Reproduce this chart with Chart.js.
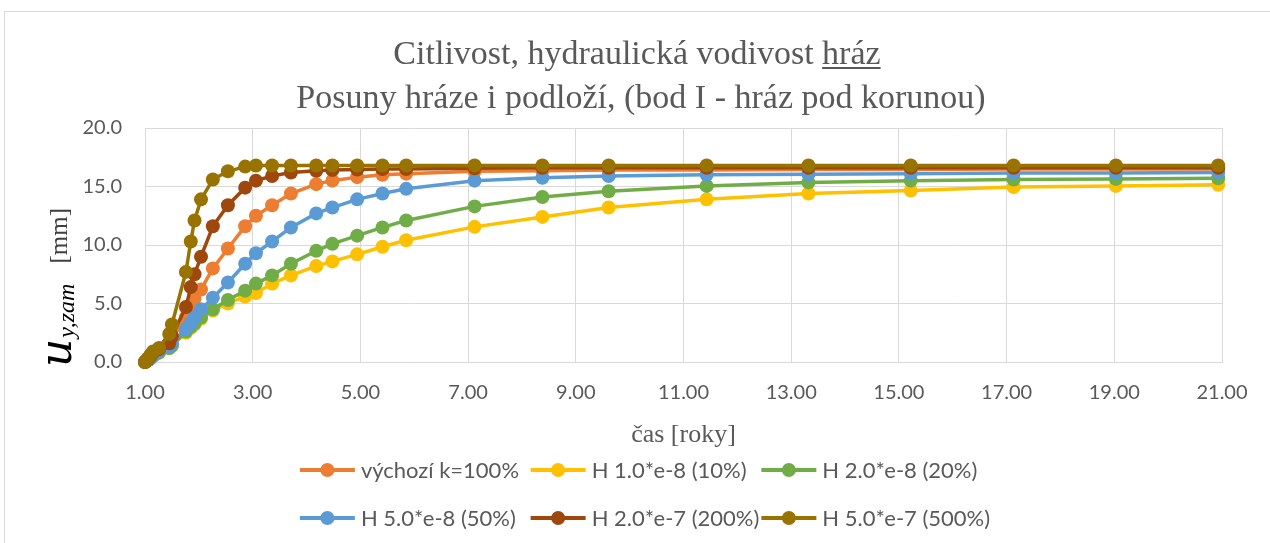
<!DOCTYPE html>
<html>
<head>
<meta charset="utf-8">
<script src="https://cdn.jsdelivr.net/npm/chart.js@4.4.0/dist/chart.umd.min.js"></script>
<style>
  html, body { margin: 0; padding: 0; background: #fff; }
  canvas { display: block; }
</style>
</head>
<body>
<canvas id="graf" width="1270" height="543"></canvas>
<script>
// cas [roky]
var cas = [1.00, 1.05, 1.10, 1.15, 1.26, 1.45, 1.50, 1.76, 1.85, 1.92, 2.04, 2.26, 2.54, 2.86, 3.06, 3.36,
           3.71, 4.18, 4.48, 4.94, 5.41, 5.85, 7.12, 8.38, 9.61, 11.43, 13.32, 15.22, 17.13, 19.03, 20.93]

// u_y,zam [mm]
var vychozi = [0, 0.2, 0.4, 0.7, 1.0, 1.6, 2.0, 3.8, 4.7, 5.4, 6.2, 8.0, 9.7, 11.6, 12.5, 13.4,
               14.4, 15.2, 15.5, 15.8, 16.0, 16.1, 16.3, 16.35, 16.4, 16.4, 16.45, 16.45, 16.5, 16.5, 16.5]
var h10 = [0, 0.15, 0.3, 0.5, 0.8, 1.2, 1.4, 2.5, 2.9, 3.2, 3.7, 4.4, 5.0, 5.6, 5.9, 6.7,
           7.4, 8.2, 8.6, 9.2, 9.85, 10.4, 11.55, 12.4, 13.2, 13.9, 14.4, 14.65, 14.95, 15.05, 15.15]
var h20 = [0, 0.15, 0.3, 0.5, 0.8, 1.2, 1.4, 2.6, 3.0, 3.3, 3.8, 4.5, 5.3, 6.1, 6.7, 7.4,
           8.4, 9.5, 10.1, 10.8, 11.5, 12.1, 13.3, 14.1, 14.6, 15.05, 15.35, 15.5, 15.6, 15.65, 15.7]
var h50 = [0, 0.15, 0.35, 0.6, 0.9, 1.3, 1.6, 2.8, 3.3, 3.8, 4.5, 5.5, 6.8, 8.4, 9.3, 10.3,
           11.5, 12.7, 13.2, 13.9, 14.4, 14.8, 15.5, 15.75, 15.9, 16.0, 16.05, 16.1, 16.15, 16.15, 16.2]
var h200 = [0, 0.2, 0.5, 0.8, 1.1, 1.6, 2.2, 4.7, 6.4, 7.5, 9.0, 11.6, 13.4, 14.9, 15.5, 15.9,
            16.2, 16.35, 16.4, 16.45, 16.5, 16.5, 16.55, 16.6, 16.6, 16.6, 16.6, 16.6, 16.6, 16.6, 16.6]
var h500 = [0, 0.3, 0.6, 0.9, 1.2, 2.4, 3.2, 7.7, 10.3, 12.1, 13.9, 15.6, 16.3, 16.7, 16.8, 16.8,
            16.8, 16.8, 16.8, 16.8, 16.8, 16.8, 16.8, 16.8, 16.8, 16.8, 16.8, 16.8, 16.8, 16.8, 16.8]

var serie = [vychozi, h10, h20, h50, h200, h500]
var nazvy = ['výchozí k=100%', 'H 1.0*e-8 (10%)', 'H 2.0*e-8 (20%)',
             'H 5.0*e-8 (50%)', 'H 2.0*e-7 (200%)', 'H 5.0*e-7 (500%)']
var barvy = ['#ED7D31', '#FFC000', '#70AD47', '#5B9BD5', '#9E480E', '#997300']

var titulek = ['Citlivost, hydraulická vodivost hráz', 'Posuny hráze i podloží, (bod I - hráz pod korunou)']
var podtrzeno = 'hráz'
var osaX = 'čas [roky]'
var osaY = ['u', 'y,zam', '[mm]']

var sedaText = '#595959'
var mrizka = '#d9d9d9'

// ramecek grafu
var ramecek = {
  id: 'ramecek',
  beforeDraw: function(chart) {
    var ctx = chart.ctx
    ctx.save()
    ctx.fillStyle = '#fff'
    ctx.fillRect(0, 0, chart.width, chart.height)
    ctx.strokeStyle = mrizka
    ctx.lineWidth = 1
    ctx.strokeRect(4.5, 11.5, chart.width + 10, chart.height + 10)
    ctx.restore()
  }
}

// nadpis s podtrzenym slovem
var nadpis = {
  id: 'nadpis',
  afterDraw: function(chart) {
    var ctx = chart.ctx
    var cx = chart.width / 2
    ctx.save()
    ctx.font = '34px "Liberation Serif"'
    ctx.fillStyle = sedaText
    ctx.textAlign = 'center'
    ctx.textBaseline = 'alphabetic'
    ctx.fillText(titulek[0], cx + 2, 64)
    ctx.fillText(titulek[1], cx + 6, 108)
    var w = ctx.measureText(titulek[0]).width
    var ws = ctx.measureText(podtrzeno).width
    ctx.fillRect(cx + 2 + w / 2 - ws, 67, ws, 2)
    ctx.restore()
  }
}

// popis osy y: u_{y,zam} [mm]
var popisY = {
  id: 'popisY',
  afterDraw: function(chart) {
    var ctx = chart.ctx
    ctx.save()
    ctx.translate(71, 367)
    ctx.rotate(-Math.PI / 2)
    ctx.textBaseline = 'alphabetic'
    ctx.textAlign = 'left'
    ctx.fillStyle = '#000'
    ctx.font = 'italic 44px "DejaVu Serif"'
    ctx.fillText(osaY[0], 0, 0)
    var w = ctx.measureText(osaY[0]).width
    ctx.font = 'italic 24px "Liberation Serif"'
    ctx.fillText(osaY[1], w + 1, 3)
    ctx.font = '25px "Liberation Serif"'
    ctx.fillStyle = '#404040'
    var wm = ctx.measureText(osaY[2]).width
    ctx.fillText(osaY[2], 159 - wm, -4)
    ctx.restore()
  }
}

// legenda ve 2 radcich po 3 polozkach
var legenda = {
  id: 'legenda',
  afterDraw: function(chart) {
    var ctx = chart.ctx
    var radky = [[0, 1, 2], [3, 4, 5]]
    var radkyY = [470, 518]
    var cara = 55, mezera = 6
    ctx.save()
    ctx.font = '22px Lato'
    var bunka = 0
    nazvy.forEach(function(n) {
      bunka = Math.max(bunka, cara + mezera + ctx.measureText(n).width + 2)
    })
    var x0 = chart.width / 2 + 11 - bunka * 1.5
    radky.forEach(function(r, ri) {
      var y = radkyY[ri]
      r.forEach(function(di, c) {
        var x = x0 + c * bunka
        ctx.strokeStyle = barvy[di]
        ctx.fillStyle = barvy[di]
        ctx.lineWidth = 4
        ctx.beginPath()
        ctx.moveTo(x, y)
        ctx.lineTo(x + cara, y)
        ctx.stroke()
        ctx.beginPath()
        ctx.arc(x + cara / 2, y, 7, 0, Math.PI * 2)
        ctx.fill()
        ctx.fillStyle = sedaText
        ctx.textAlign = 'left'
        ctx.textBaseline = 'middle'
        ctx.fillText(nazvy[di], x + cara + mezera, y + 1)
      })
    })
    ctx.restore()
  }
}

var datasets = serie.map(function(s, i) {
  return {
    label: nazvy[i],
    data: cas.map(function(t, j) { return {x: t, y: s[j]} }),
    borderColor: barvy[i],
    backgroundColor: barvy[i],
    borderWidth: 3.5,
    pointRadius: 7,
    pointBorderWidth: 0,
    pointBackgroundColor: barvy[i],
    tension: 0,
    clip: false,
    order: serie.length - i
  }
})

new Chart(document.getElementById('graf'), {
  type: 'line',
  data: {datasets: datasets},
  plugins: [ramecek, nadpis, popisY, legenda],
  options: {
    responsive: false,
    animation: false,
    devicePixelRatio: 1,
    layout: {padding: {left: 0, right: 48, top: 128, bottom: 90}},
    plugins: {
      legend: {display: false},
      title: {display: false},
      tooltip: {enabled: false}
    },
    scales: {
      x: {
        type: 'linear',
        min: 1,
        max: 21,
        afterFit: function(s) { s.height = 91 },
        ticks: {
          stepSize: 2,
          color: sedaText,
          padding: 19,
          font: {family: 'Lato', size: 20},
          callback: function(v) { return v.toFixed(2) }
        },
        grid: {color: mrizka, lineWidth: 1, drawTicks: false},
        border: {color: mrizka},
        title: {
          display: true,
          text: osaX,
          color: sedaText,
          font: {family: 'Liberation Serif', size: 26},
          padding: {top: 0, bottom: 2}
        }
      },
      y: {
        min: 0,
        max: 20,
        afterFit: function(s) { s.width = 145 },
        ticks: {
          stepSize: 5,
          color: sedaText,
          padding: 23,
          font: {family: 'Lato', size: 20},
          callback: function(v) { return v.toFixed(1) }
        },
        grid: {color: mrizka, lineWidth: 1, drawTicks: false},
        border: {display: false}
      }
    }
  }
})
</script>
</body>
</html>
